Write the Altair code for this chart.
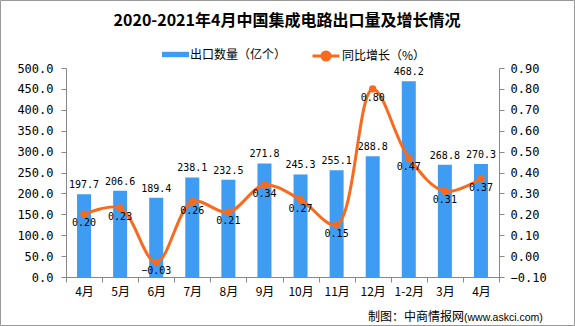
import altair as alt
import pandas as pd

months = ["4月", "5月", "6月", "7月", "8月", "9月", "10月", "11月", "12月", "1-2月", "3月", "4月"]
export_volume = [197.7, 206.6, 189.4, 238.1, 232.5, 271.8, 245.3, 255.1, 288.8, 468.2, 268.8, 270.3]
growth = [0.20, 0.23, -0.03, 0.26, 0.21, 0.34, 0.27, 0.15, 0.80, 0.47, 0.31, 0.37]
left_ticks = [0, 50, 100, 150, 200, 250, 300, 350, 400, 450, 500]
right_ticks = [-0.10, 0.00, 0.10, 0.20, 0.30, 0.40, 0.50, 0.60, 0.70, 0.80, 0.90]
series_names = ["出口数量（亿个）", "同比增长（%）"]
title_text = "2020-2021年4月中国集成电路出口量及增长情况"

BLUE = "#3E9DF2"
ORANGE = "#FA6A1E"
AXIS_GRAY = "#888888"
CJK = "Noto Sans CJK SC"
NUM = "DejaVu Sans Mono"

df = pd.DataFrame({
    "idx": list(range(len(months))),
    "month": months,
    "vol": export_volume,
    "g": growth,
    "s1": series_names[0],
    "s2": series_names[1],
})

label_expr = "[" + ",".join("'" + m + "'" for m in months) + "][datum.value]"

x_enc = alt.X(
    "idx:O",
    scale=alt.Scale(paddingInner=0, paddingOuter=0),
    axis=alt.Axis(
        title=None, labelAngle=0, labelExpr=label_expr, tickBand="extent",
        labelFont=CJK, labelFontSize=12, labelPadding=4, tickSize=5,
    ),
)

y_left = alt.Y(
    "vol:Q",
    scale=alt.Scale(domain=[0, 500], nice=False),
    axis=alt.Axis(values=left_ticks, format=".1f", title=None, orient="left",
                  labelFont=NUM, labelFontSize=12, tickSize=5, labelPadding=8),
)
y_right = alt.Y(
    "g:Q",
    scale=alt.Scale(domain=[-0.1, 0.9], nice=False, zero=False),
    axis=alt.Axis(values=right_ticks, format=".2f", title=None, orient="right",
                  labelFont=NUM, labelFontSize=12, tickSize=5, labelPadding=6),
)

base = alt.Chart(df)

bars = base.mark_bar(size=14).encode(
    x=x_enc,
    y=y_left,
    fill=alt.Fill(
        "s1:N",
        scale=alt.Scale(domain=[series_names[0]], range=[BLUE]),
        legend=alt.Legend(
            title=None, orient="none", legendX=96, legendY=-27, padding=0,
            symbolType="M-1,-0.2H1V0.2H-1Z", symbolSize=729, symbolStrokeWidth=0,
            labelFont=CJK, labelFontSize=12, labelColor="#000", labelOffset=1,
        ),
    ),
)
bar_text = base.mark_text(baseline="bottom", dy=-4, font=NUM, fontSize=10, color="#000").encode(
    x=x_enc, y=y_left, text=alt.Text("vol:Q", format=".1f")
)

line = base.mark_line(interpolate="catmull-rom", strokeWidth=3).encode(
    x=x_enc,
    y=y_right,
    stroke=alt.Stroke(
        "s2:N",
        scale=alt.Scale(domain=[series_names[1]], range=[ORANGE]),
        legend=alt.Legend(
            title=None, orient="none", legendX=245, legendY=-27, padding=0,
            symbolType="M-1,0H1M-0.3,0A0.3,0.3 0 1,0 0.3,0A0.3,0.3 0 1,0 -0.3,0Z",
            symbolSize=729, symbolStrokeWidth=3, symbolFillColor=ORANGE,
            labelFont=CJK, labelFontSize=12, labelColor="#000", labelOffset=1,
        ),
    ),
)
points = base.mark_circle(size=55, color=ORANGE, opacity=1).encode(x=x_enc, y=y_right)
line_text = base.mark_text(baseline="middle", dy=9, font=NUM, fontSize=10, color="#000").encode(
    x=x_enc, y=y_right, text=alt.Text("g:Q", format=".2f")
)

deco = alt.Chart(alt.Data(values=[{}]))
title_mark = deco.mark_text(align="center", baseline="middle", font=CJK, fontSize=16,
                            fontWeight="bold", color="#000").encode(
    x=alt.value(221), y=alt.value(-47), text=alt.value(title_text)
)
source1 = deco.mark_text(align="right", baseline="middle", font=CJK, fontSize=12, color="#000").encode(
    x=alt.value(398), y=alt.value(249), text=alt.value("制图：中商情报网")
)
source2 = deco.mark_text(align="left", baseline="middle", font="Liberation Sans", fontSize=10.5, color="#000").encode(
    x=alt.value(398), y=alt.value(250), text=alt.value("(www.askci.com)")
)
frame = deco.mark_rect(fill=None, stroke="#999999", strokeWidth=1).encode(
    x=alt.value(-65.5), x2=alt.value(508.5), y=alt.value(-67.5), y2=alt.value(257.5)
)

left_layer = alt.layer(bars, bar_text)
right_layer = alt.layer(line, points, line_text)

chart = alt.layer(left_layer, right_layer, title_mark, source1, source2, frame).resolve_scale(
    y="independent"
).properties(
    width=433,
    height=209,
    autosize=alt.AutoSizeParams(type="none"),
    padding={"left": 66, "top": 68, "right": 76, "bottom": 49},
).configure_view(stroke=None).configure_axis(
    grid=False, domainColor=AXIS_GRAY, tickColor=AXIS_GRAY, labelColor="#000"
)

chart.save("out.html", embed_options={"renderer": "svg", "actions": False})
